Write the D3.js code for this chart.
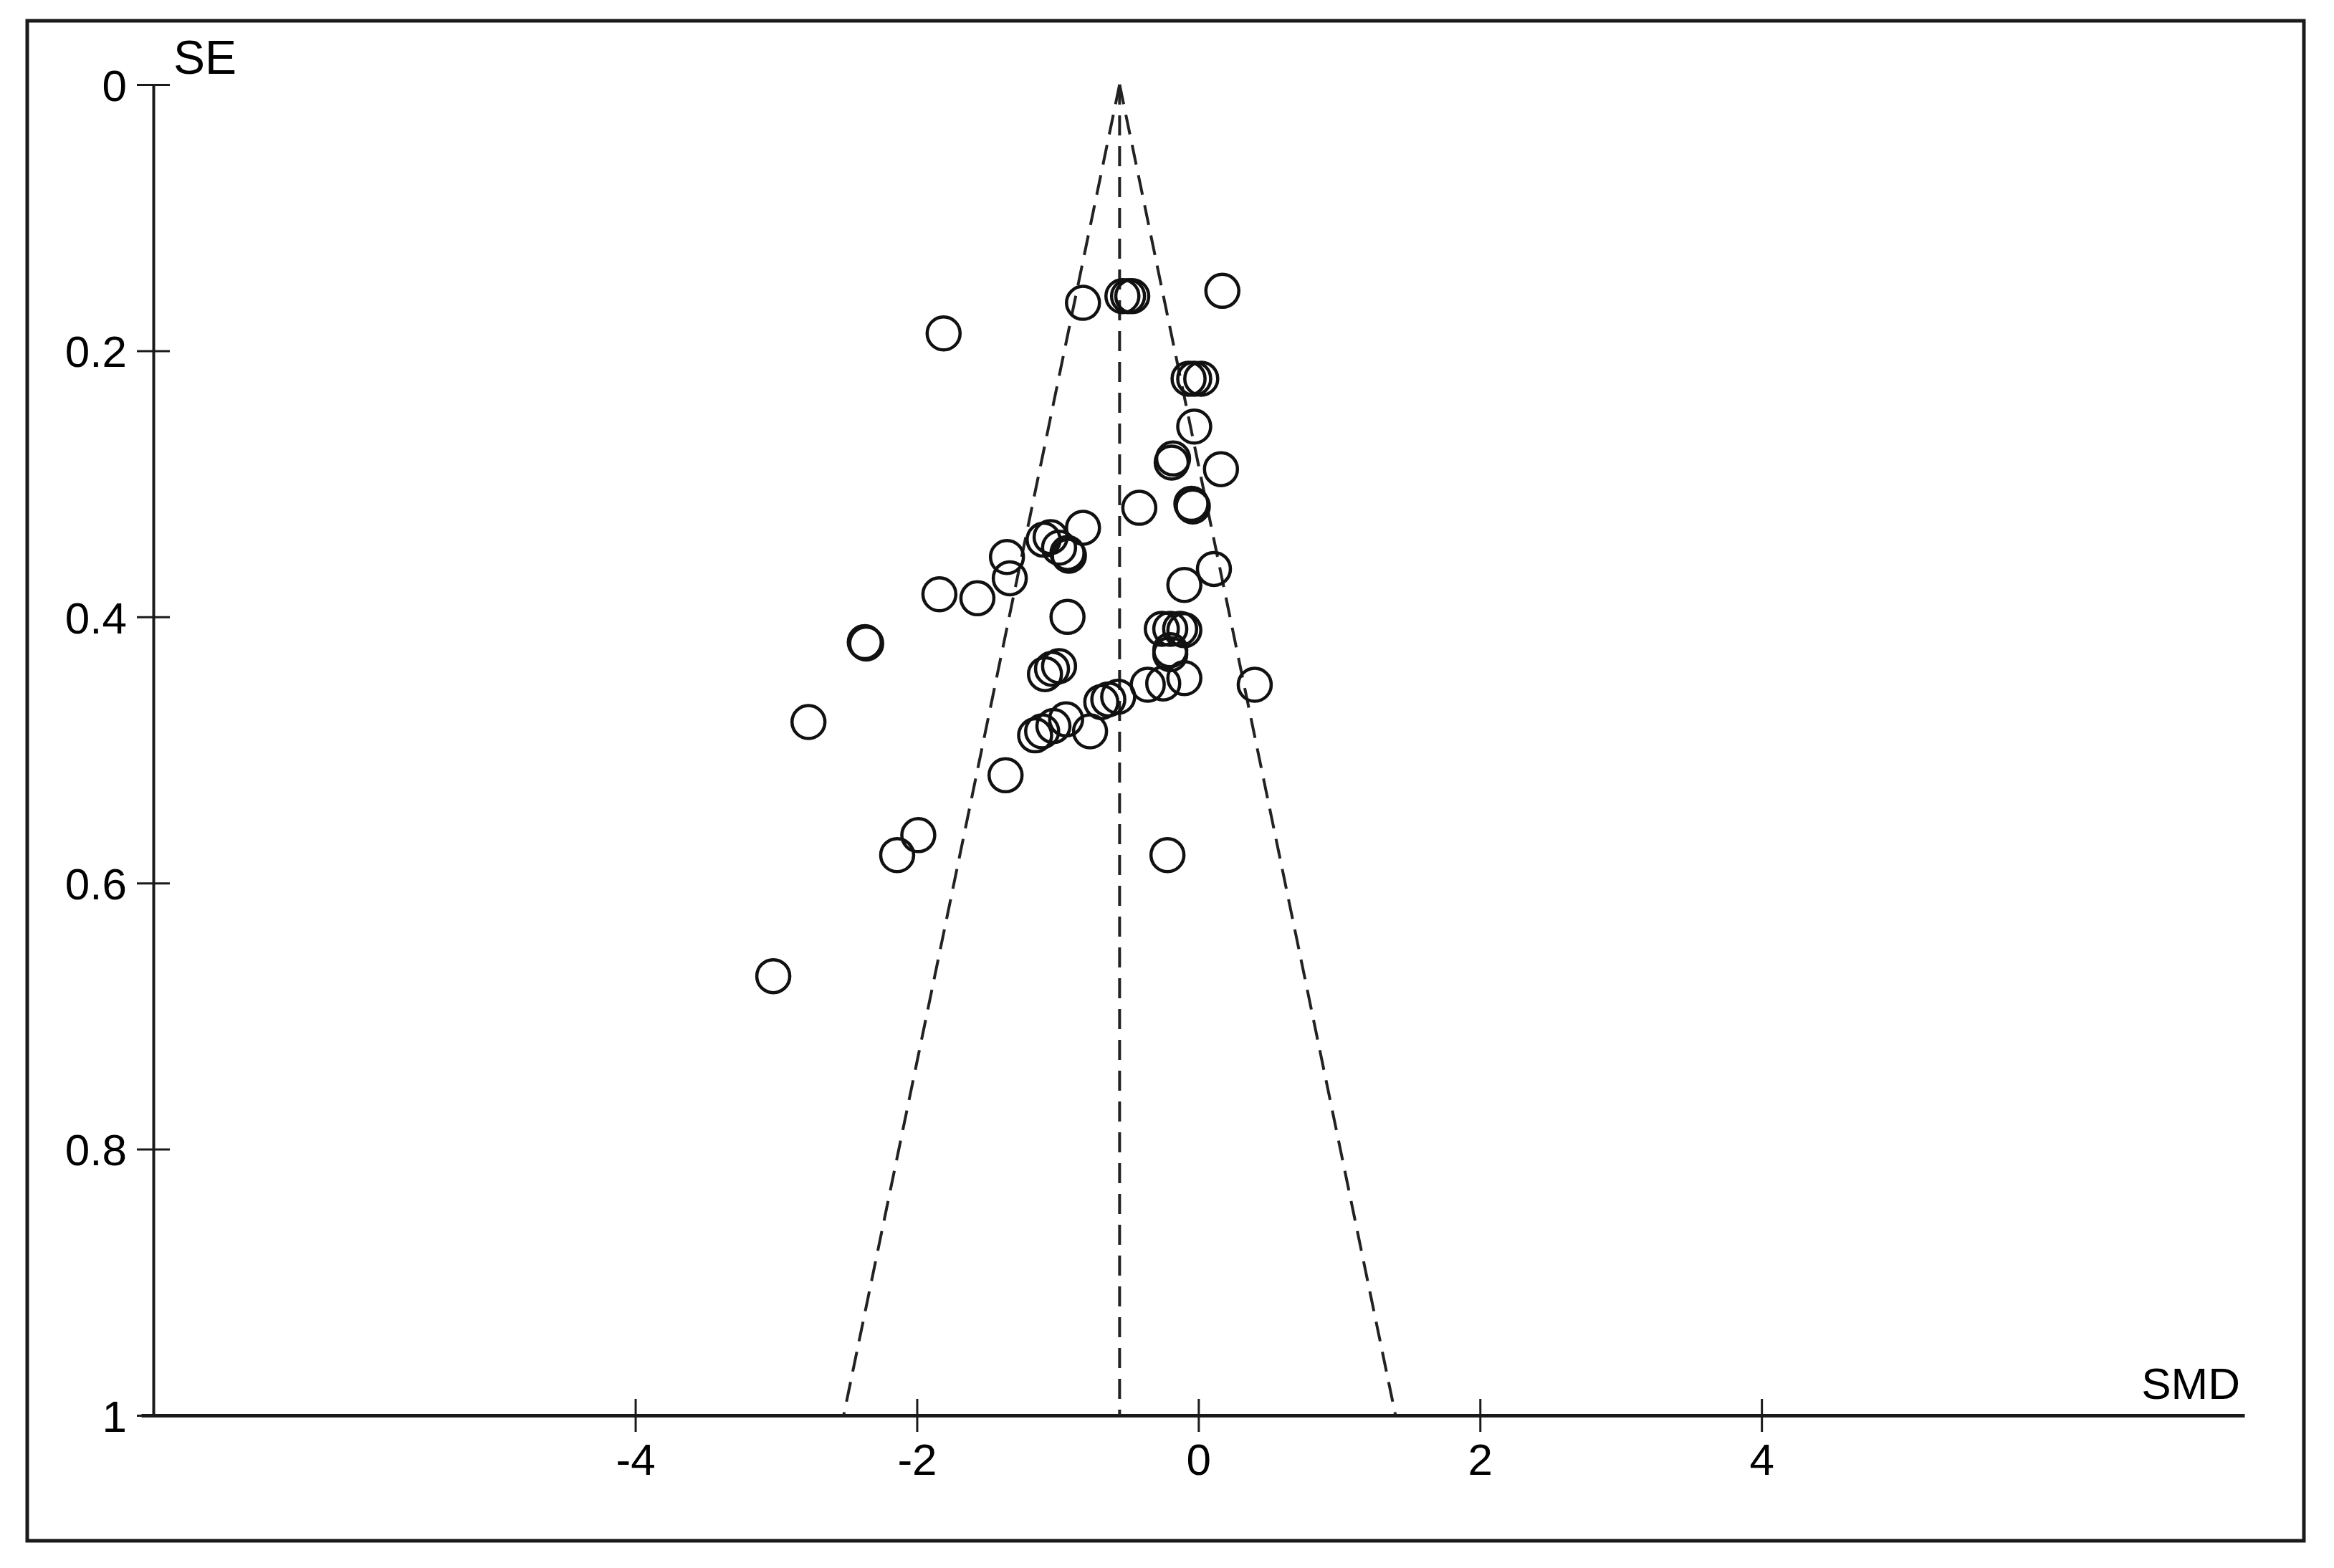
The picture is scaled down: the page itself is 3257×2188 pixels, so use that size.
<!DOCTYPE html>
<html>
<head>
<meta charset="utf-8">
<script src="https://cdnjs.cloudflare.com/ajax/libs/d3/7.8.5/d3.min.js"></script>
<style>
  html, body { margin: 0; padding: 0; background: #ffffff; }
  svg { display: block; }
</style>
</head>
<body>
<div class="main"></div>
<script>
// Study effect sizes (SMD) and their standard errors
let smd = [0.17, -0.82, -0.54, -0.50, -0.47, -1.81, -0.07, -0.03, 0.02, -0.03,
           -0.19, -0.18, 0.16, -0.05, -0.04, -0.42, -0.82, -1.05, -1.10, -0.99,
           -0.93, -0.92, -1.36, -1.34, -1.84, -1.57, -0.93, -0.10, 0.11, -2.37,
           -2.36, -0.26, -0.20, -0.13, -0.10, -0.20, -0.20, -1.09, -1.04, -0.99,
           -0.36, -0.25, -0.10, 0.40, -0.69, -0.64, -0.57, -2.77, -1.16, -1.11,
           -1.03, -0.94, -0.77, -1.37, -1.99, -2.14, -0.22, -3.02];
let se = [0.155, 0.164, 0.159, 0.159, 0.159, 0.187, 0.221, 0.221, 0.221, 0.257,
          0.284, 0.281, 0.289, 0.315, 0.317, 0.318, 0.333, 0.340, 0.342, 0.348,
          0.352, 0.354, 0.355, 0.371, 0.383, 0.386, 0.400, 0.376, 0.364, 0.419,
          0.420, 0.409, 0.409, 0.409, 0.410, 0.425, 0.428, 0.443, 0.439, 0.437,
          0.451, 0.450, 0.446, 0.451, 0.464, 0.462, 0.460, 0.479, 0.489, 0.486,
          0.482, 0.477, 0.486, 0.519, 0.564, 0.579, 0.579, 0.670];

// pooled estimate (centre of the funnel)
let pooled = -0.56;

let xTicks = [-4, -2, 0, 2, 4];
let yTicks = [0, 0.2, 0.4, 0.6, 0.8, 1];
let yTickLabels = ["0", "0.2", "0.4", "0.6", "0.8", "1"];

let width = 3257,
    height = 2188;

let svg = d3.select("body").select("div.main").append("svg")
  .attr("width", width)
  .attr("height", height)
  .style("font-family", "'Liberation Sans', Arial, sans-serif");

let ink = "#1a1a1a";

// outer frame
svg.append("rect")
  .attr("x", 38)
  .attr("y", 29)
  .attr("width", 3177)
  .attr("height", 2121)
  .attr("fill", "none")
  .attr("stroke", ink)
  .attr("stroke-width", 5);

// scales
let x = d3.scaleLinear()
  .domain([-7.51, 7.43])
  .range([197, 3132]);

let y = d3.scaleLinear()
  .domain([0, 1])
  .range([118, 1975]);

let yAxisX = 214;

// x axis
let xAxis = d3.axisBottom(x)
  .tickValues(xTicks)
  .tickFormat(d3.format("d"))
  .tickSize(23)
  .tickSizeOuter(0);

let gx = svg.append("g")
  .attr("transform", "translate(0," + y(1) + ")")
  .call(xAxis);

gx.select(".domain")
  .attr("stroke", ink)
  .attr("stroke-width", 5);
gx.selectAll(".tick line")
  .attr("y1", -23)
  .attr("y2", 23)
  .attr("stroke", ink)
  .attr("stroke-width", 3);
gx.selectAll(".tick text")
  .attr("y", 83)
  .attr("dy", 0)
  .attr("font-size", "62px")
  .attr("fill", "#000")
  .text(d => d < 0 ? "-" + Math.abs(d) : d);

// y axis
let yAxis = d3.axisLeft(y)
  .tickValues(yTicks)
  .tickFormat((d, i) => yTickLabels[i])
  .tickSize(23)
  .tickSizeOuter(0);

let gy = svg.append("g")
  .attr("transform", "translate(" + yAxisX + ",0)")
  .call(yAxis);

gy.select(".domain")
  .attr("stroke", ink)
  .attr("stroke-width", 4);
gy.selectAll(".tick line")
  .attr("x1", -23)
  .attr("x2", 23)
  .attr("stroke", ink)
  .attr("stroke-width", 3);
gy.selectAll(".tick text")
  .attr("x", -37)
  .attr("dy", "0.36em")
  .attr("font-size", "62px")
  .attr("fill", "#000");

// axis titles
svg.append("text")
  .text("SE")
  .attr("x", 242)
  .attr("y", 103)
  .attr("font-size", "66px")
  .attr("fill", "#000");

svg.append("text")
  .text("SMD")
  .attr("x", 3126)
  .attr("y", 1952)
  .attr("text-anchor", "end")
  .attr("font-size", "62px")
  .attr("fill", "#000");

// funnel: pseudo 95% confidence limits and the pooled line
let funnel = [
  [[pooled, 0], [pooled - 1.96, 1]],
  [[pooled, 0], [pooled + 1.96, 1]],
  [[pooled, 0], [pooled, 1]]
];

let line = d3.line()
  .x(d => x(d[0]))
  .y(d => y(d[1]));

svg.selectAll("path.funnel")
  .data(funnel)
  .enter().append("path")
  .attr("class", "funnel")
  .attr("d", line)
  .attr("fill", "none")
  .attr("stroke", "#222")
  .attr("stroke-width", 4)
  .attr("stroke-dasharray", "28,15");

// studies
svg.selectAll("circle.study")
  .data(smd)
  .enter().append("circle")
  .attr("class", "study")
  .attr("cx", d => x(d))
  .attr("cy", (d, i) => y(se[i]))
  .attr("r", 23)
  .attr("fill", "none")
  .attr("stroke", "#111")
  .attr("stroke-width", 4.5);
</script>
</body>
</html>
